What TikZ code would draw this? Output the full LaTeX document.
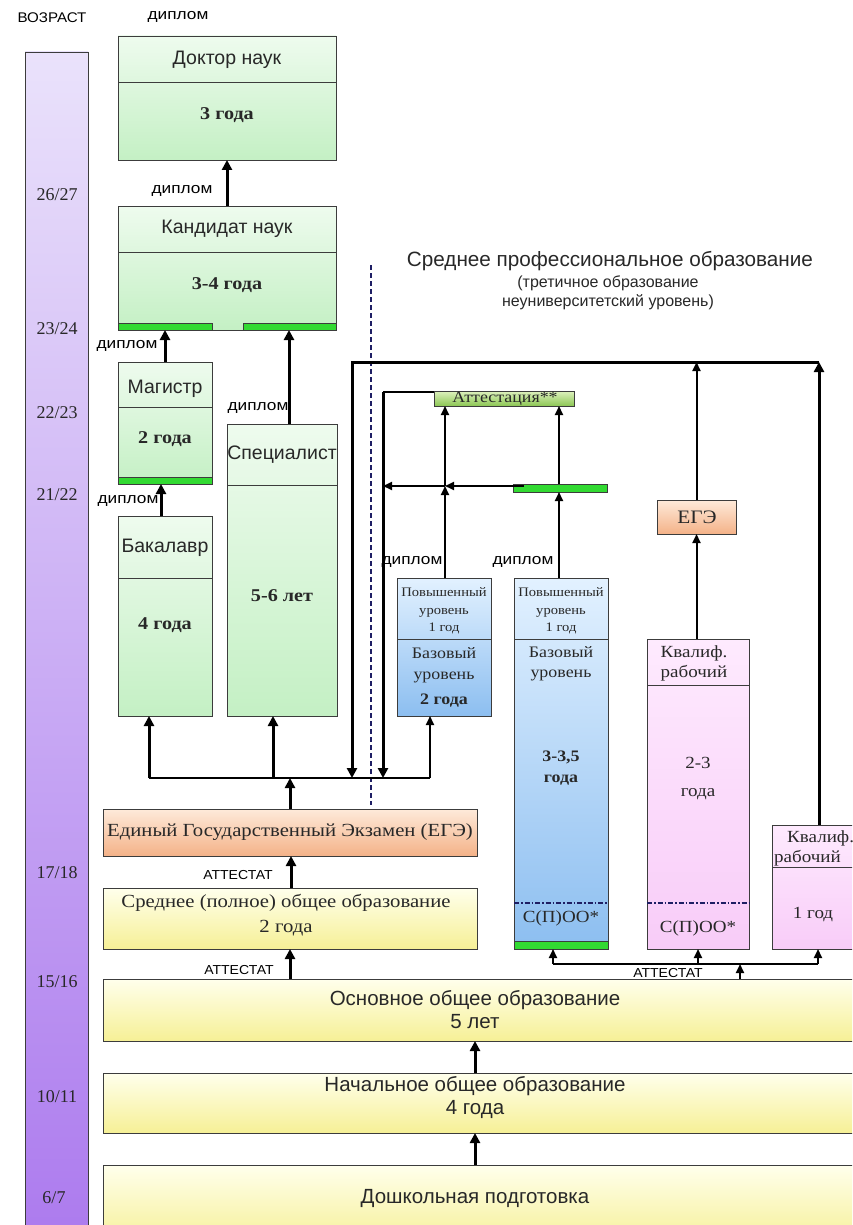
\documentclass[tikz,border=0pt]{standalone}
\usepackage{fontspec}
\setmainfont{Liberation Serif}
\setsansfont{Liberation Sans}
\newfontfamily\wser[FakeStretch=1.12]{Liberation Serif}
\newfontfamily\wsans[FakeStretch=1.15]{Liberation Sans}
\newfontfamily\msans[FakeStretch=1.08]{Liberation Sans}
\usetikzlibrary{arrows.meta,fit}
\definecolor{bord}{RGB}{60,60,60}
\definecolor{gtop}{RGB}{238,251,238}
\definecolor{gbot}{RGB}{196,240,196}
\definecolor{btop}{RGB}{226,241,255}
\definecolor{bbot}{RGB}{140,190,240}
\definecolor{ptop}{RGB}{254,234,254}
\definecolor{pbot}{RGB}{248,204,248}
\definecolor{otop}{RGB}{254,234,218}
\definecolor{obot}{RGB}{244,178,136}
\definecolor{ytop}{RGB}{255,255,236}
\definecolor{ybot}{RGB}{246,240,150}
\definecolor{vtop}{RGB}{234,226,251}
\definecolor{vbot}{RGB}{172,122,238}
\definecolor{bright}{RGB}{50,218,50}
\definecolor{attop}{RGB}{222,242,190}
\definecolor{atbot}{RGB}{140,198,84}
\definecolor{navy}{RGB}{30,30,100}
\definecolor{txt}{RGB}{40,40,40}
\newcommand\fsz[2]{\fontsize{#1}{#2}\selectfont}
\begin{document}
\begin{tikzpicture}[x=1pt,y=-1pt,
  box/.style={draw=bord,line width=0.9pt,inner sep=0pt,outer sep=0pt,rectangle},
  grn/.style={box,top color=gtop,bottom color=gbot},
  blu/.style={box,top color=btop,bottom color=bbot},
  pnk/.style={box,top color=ptop,bottom color=pbot},
  org/.style={box,top color=otop,bottom color=obot},
  ylw/.style={box,top color=ytop,bottom color=ybot},
  vio/.style={box,top color=vtop,bottom color=vbot},
  bar/.style={box,fill=bright},
  atb/.style={box,top color=attop,bottom color=atbot},
  divl/.style={draw=bord,line width=0.9pt},
  ddl/.style={draw=navy,line width=1.8pt,dash pattern=on 5pt off 2pt on 1.5pt off 2pt},
  sn/.style={font=\sffamily\fsz{19.5}{23},text=txt,inner sep=0pt,align=center},
  sb/.style={font=\wser\bfseries\fsz{18}{22},text=txt,inner sep=0pt,align=center},
  sr/.style={font=\wser\fsz{17}{21},text=txt,inner sep=0pt,align=center},
  lab/.style={font=\wsans\fsz{15}{16},text=black,inner sep=0pt},
  alab/.style={font=\msans\fsz{13}{14},text=black,inner sep=0pt},
  age/.style={font=\fsz{18}{20},text=txt,inner sep=0pt},
  thinl/.style={draw=black,line width=1.5pt},
  arr/.style={draw=black,line width=2pt,-{Triangle[width=8pt,length=9pt]}},
  thk/.style={draw=black,line width=3pt,-{Triangle[width=10pt,length=10pt]}}]
\useasboundingbox (0,0) rectangle (852,1225);
\clip (0,0) rectangle (852,1225);
\fill[white] (0,0) rectangle (852,1225);
% age bar
\node[vio,fit={(25,52)(88,1245)}] (agebar) {};
\node[font=\msans\fsz{14}{16},inner sep=0pt] (vozr) at (52,18) {ВОЗРАСТ};
\node[age] (a1) at (57,195) {26/27};
\node[age] (a2) at (57,329) {23/24};
\node[age] (a3) at (57,413) {22/23};
\node[age] (a4) at (57,495) {21/22};
\node[age] (a5) at (57,873) {17/18};
\node[age] (a6) at (57,982) {15/16};
\node[age] (a7) at (57,1097) {10/11};
\node[age] (a8) at (54,1198) {6/7};
% university boxes
\node[grn,fit={(118,36)(336,160)}] (doc) {};
\draw[divl] (doc.west |- 0,82) -- (doc.east |- 0,82);
\node[sn] (tdoc) at (227,60) {Доктор наук};
\node[sb] (tdoc2) at (227,115) {3 года};
\node[grn,fit={(118,206)(336,330)}] (kand) {};
\draw[divl] (kand.west |- 0,252) -- (kand.east |- 0,252);
\node[sn] (tkand) at (227,229) {Кандидат наук};
\node[sb] (tkand2) at (227,285) {3-4 года};
\node[bar,fit={(118,323)(212,330)}] (gb1) {};
\node[bar,fit={(243,323)(336,330)}] (gb2) {};
\node[grn,fit={(118,362)(212,484)}] (mag) {};
\draw[divl] (mag.west |- 0,407) -- (mag.east |- 0,407);
\node[bar,fit={(118,477)(212,484)}] (gb3) {};
\node[sn] (tmag) at (165,389) {Магистр};
\node[sb] (tmag2) at (165,439) {2 года};
\node[grn,fit={(118,516)(212,716)}] (bak) {};
\draw[divl] (bak.west |- 0,578) -- (bak.east |- 0,578);
\node[sn] (tbak) at (165,548) {Бакалавр};
\node[sb] (tbak2) at (165,625) {4 года};
\node[grn,fit={(227,424)(337,716)}] (spec) {};
\draw[divl] (spec.west |- 0,485) -- (spec.east |- 0,485);
\node[sn] (tspec) at (282,455) {Специалист};
\node[sb] (tspec2) at (282,596) {5-6 лет};
% labels diplom
\node[lab] (dp1) at (178,17) {диплом};
\node[lab] (dp2) at (182,191) {диплом};
\node[lab] (dp3) at (127,346) {диплом};
\node[lab] (dp4) at (128,501) {диплом};
\node[lab] (dp5) at (258,408) {диплом};
\node[lab] (dp6) at (412,562) {диплом};
\node[lab] (dp7) at (523,562) {диплом};
% dashed separator
\coordinate (ds1) at (371,265);
\coordinate (ds2) at (371,805);
\draw[navy,line width=1.8pt,dash pattern=on 5pt off 3pt] (ds1) -- (ds2);
% title
\node[font=\sffamily\fsz{20.7}{22},text=txt,inner sep=0pt] (title) at (610,261) {Среднее профессиональное образование};
\node[font=\sffamily\fsz{16}{19},text=txt,inner sep=0pt,align=center] (subt) at (608,293) {(третичное образование\\неуниверситетский уровень)};
% secondary professional
\node[atb,fit={(434,391)(574,406)}] (att) {};
\node[font=\wser\fsz{16}{16},text=txt,inner sep=0pt] (tatt) at (505,398.5) {Аттестация**};
\node[bar,fit={(513,484)(607,492)}] (gb4) {};
\node[org,fit={(657,500)(736,534)}] (ege2) {};
\node[sr,font=\wser\fsz{19}{21}] (tege2) at (697,517) {ЕГЭ};
\node[blu,fit={(397,578)(491,716)}] (blue1) {};
\draw[divl] (blue1.west |- 0,639) -- (blue1.east |- 0,639);
\node[font=\wser\fsz{13}{17.5},text=txt,inner sep=0pt,align=center] (tb1a) at (444,611) {Повышенный\\уровень\\1 год};
\node[font=\wser\fsz{16}{21},text=txt,inner sep=0pt,align=center] (tb1b) at (444,665) {Базовый\\уровень};
\node[font=\wser\bfseries\fsz{16}{21},text=txt,inner sep=0pt] (tb1c) at (444,701) {2 года};
\node[blu,fit={(514,578)(608,949)}] (blue2) {};
\draw[divl] (blue2.west |- 0,639) -- (blue2.east |- 0,639);
\draw[ddl] (blue2.west |- 0,903) -- (blue2.east |- 0,903);
\node[bar,fit={(514,941)(608,949)}] (gb5) {};
\node[font=\wser\fsz{13}{17.5},text=txt,inner sep=0pt,align=center] (tb2a) at (561,611) {Повышенный\\уровень\\1 год};
\node[font=\wser\fsz{16}{20},text=txt,inner sep=0pt,align=center] (tb2b) at (561,664) {Базовый\\уровень};
\node[font=\wser\bfseries\fsz{16}{21},text=txt,inner sep=0pt,align=center] (tb2c) at (561,768) {3-3,5\\года};
\node[sr] (tb2d) at (561,918) {С(П)ОО*};
\node[pnk,fit={(647,639)(749,949)}] (pink1) {};
\draw[divl] (pink1.west |- 0,685) -- (pink1.east |- 0,685);
\draw[ddl] (pink1.west |- 0,903) -- (pink1.east |- 0,903);
\node[sr,font=\wser\fsz{17}{20}] (tp1a) at (694,663) {Квалиф.\\рабочий};
\node[sr,font=\wser\fsz{17}{28}] (tp1b) at (698,779) {2-3\\года};
\node[sr] (tp1c) at (698,928) {С(П)ОО*};
\node[pnk,fit={(772,825)(880,949)}] (pink2) {};
\draw[divl] (pink2.west |- 0,867) -- (pink2.east |- 0,867);
\node[sr,anchor=west] (tp2a) at (787,838) {Квалиф.};
\node[sr,anchor=west] (tp2b) at (774,858) {рабочий};
\node[sr] (tp2c) at (813,915) {1 год};
% school
\node[org,fit={(103,809)(477,856)}] (bege) {};
\node[sr,font=\wser\fsz{18.5}{20}] (tbege) at (290,832) {Единый Государственный Экзамен (ЕГЭ)};
\node[ylw,fit={(103,888)(477,949)}] (sred) {};
\node[sr,font=\wser\fsz{18.5}{25}] (tsred) at (286,915) {Среднее (полное) общее образование\\2 года};
\node[ylw,fit={(103,979)(880,1041)}] (osn) {};
\node[sn,font=\sffamily\fsz{20.5}{23}] (tosn) at (475,1010) {Основное общее образование\\5 лет};
\node[ylw,fit={(103,1073)(880,1133)}] (nach) {};
\node[sn,font=\sffamily\fsz{20.5}{23}] (tnach) at (475,1098) {Начальное общее образование\\4 года};
\node[ylw,fit={(103,1165)(880,1245)}] (dosh) {};
\node[sn,font=\sffamily\fsz{20.5}{23}] (tdosh) at (475,1198) {Дошкольная подготовка};
\node[alab] (at1) at (238,875) {АТТЕСТАТ};
\node[alab] (at2) at (239,970) {АТТЕСТАТ};
\node[alab] (at3) at (668,973) {АТТЕСТАТ};
% connectors: university
\draw[thk] (kand.north -| 227,0) -- (doc.south -| 227,0);
\draw[thk] (mag.north -| 165,0) -- (kand.south -| 165,0);
\draw[thk] (bak.north -| 161,0) -- (gb3.south -| 161,0);
\draw[thk] (spec.north -| 289,0) -- (kand.south -| 289,0);
% distribution above big EGE
\coordinate (d1) at (149,778);
\coordinate (d2) at (430,778);
\draw[thinl] (d1) -- (d2);
\draw[thk] (d1) -- (bak.south -| d1);
\draw[thk] (d1 -| 273,0) -- (spec.south -| 273,0);
\draw[arr] (d2) -- (blue1.south -| d2);
\draw[thk] (bege.north -| 290,0) -- (d1 -| 290,0);
% big loop
\coordinate (tl) at (352,362);
\coordinate (tr) at (819,362);
\draw[thk,line join=miter] (tr) -- (tl) -- (d1 -| tl);
\draw[thk] (pink2.north -| tr) -- (tr);
\draw[arr] (ege2.north) -- (ege2.north |- tl);
\draw[arr] (pink1.north -| ege2.south) -- (ege2.south);
% attestation loop
\coordinate (al) at (383,392);
\draw[thinl] (att.west |- al) -- (al);
\draw[thk] (al) -- (d1 -| al);
\coordinate (h1) at (524,486);
\coordinate (h2) at (445,486);
\coordinate (h3) at (383,486);
\draw[arr] (h1) -- (h2);
\draw[arr] (h2) -- (h3);
\draw[arr] (blue1.north -| h2) -- (h2);
\draw[arr] (h2) -- (att.south -| h2);
\draw[arr] (blue2.north -| 559,0) -- (gb4.south -| 559,0);
\draw[arr] (gb4.north -| 559,0) -- (att.south -| 559,0);
% attestat distribution bottom right
\coordinate (b1) at (553,964);
\coordinate (b2) at (818,964);
\draw[thinl] (b1) -- (b2);
\draw[arr] (b1) -- (gb5.south -| b1);
\draw[arr] (b1 -| pink1.south) -- (pink1.south);
\draw[arr] (b2) -- (pink2.south -| b2);
\draw[arr] (osn.north -| 740,0) -- (b1 -| 740,0);
% school connectors
\draw[thk] (sred.north -| 291,0) -- (bege.south -| 291,0);
\draw[thk] (osn.north -| 290,0) -- (sred.south -| 290,0);
\draw[thk] (nach.north -| 475,0) -- (osn.south -| 475,0);
\draw[thk] (dosh.north -| 475,0) -- (nach.south -| 475,0);
\end{tikzpicture}
\end{document}
